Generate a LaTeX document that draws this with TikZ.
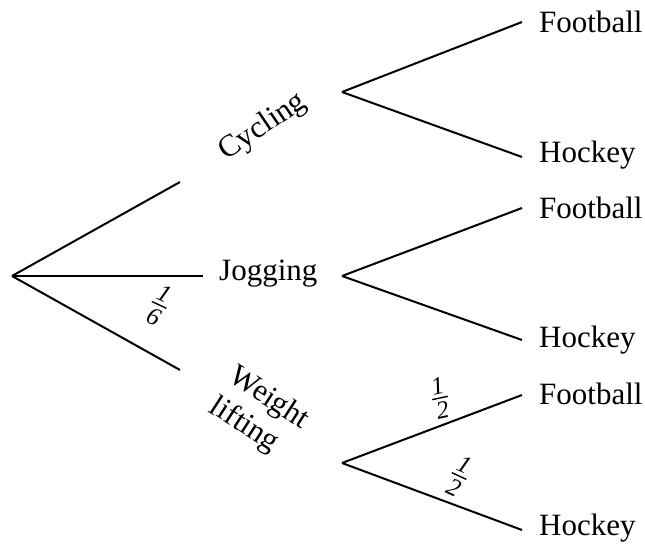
\documentclass[tikz,border=0pt]{standalone}
\usepackage{fontspec}
\setmainfont{Liberation Serif}
\newcommand{\myfr}[2]{\fontsize{25}{26}\selectfont\vbox{\offinterlineskip\hbox to 16pt{\hss\textit{#1}\hss}\kern3.5pt\hrule height 1.4pt\kern3.5pt\hbox to 16pt{\hss\textit{#2}\hss}}}
\begin{document}
\begin{tikzpicture}[x=1pt,y=-1pt,
  branch/.style={line width=2pt},
  lab/.style={font=\fontsize{31}{33}\selectfont, inner sep=0pt},
  fracnode/.style={inner sep=0pt}]
\useasboundingbox[fill=white] (0,0) rectangle (645,545);
% first level
\coordinate (root) at (12,276);
\coordinate (e1) at (180,182);
\coordinate (e2) at (203,276);
\coordinate (e3) at (180,370);
\draw[branch] (root) -- (e1);
\draw[branch] (root) -- (e2);
\draw[branch] (root) -- (e3);
\node[lab, rotate=34] (cyc) at (263,127) {Cycling};
\node[lab, anchor=west] (jog) at (219,274) {Jogging};
\node[lab, rotate=-33, align=left] (wl) at (259,414) {Weight\\[3pt]lifting};
\node[fracnode, rotate=-25] (f16) at (159,305) {\myfr{1}{6}};
% second level
\coordinate (c) at (342,92);
\coordinate (j) at (342,276);
\coordinate (w) at (342,463);
\coordinate (cf) at (522,22);
\coordinate (ch) at (522,157);
\coordinate (jf) at (522,208);
\coordinate (jh) at (522,340);
\coordinate (wf) at (522,395);
\coordinate (wh) at (522,530);
\draw[branch] (c) -- (cf);
\draw[branch] (c) -- (ch);
\draw[branch] (j) -- (jf);
\draw[branch] (j) -- (jh);
\draw[branch] (w) -- (wf);
\draw[branch] (w) -- (wh);
\node[lab, anchor=west] (t1) at (539,22) {Football};
\node[lab, anchor=west] (t2) at (539,155) {Hockey};
\node[lab, anchor=west] (t3) at (539,208) {Football};
\node[lab, anchor=west] (t4) at (539,340) {Hockey};
\node[lab, anchor=west] (t5) at (539,394) {Football};
\node[lab, anchor=west] (t6) at (539,528) {Hockey};
\node[fracnode, rotate=12] (f12a) at (440,398) {\myfr{1}{2}};
\node[fracnode, rotate=-25] (f12b) at (459,476) {\myfr{1}{2}};
\end{tikzpicture}
\end{document}
